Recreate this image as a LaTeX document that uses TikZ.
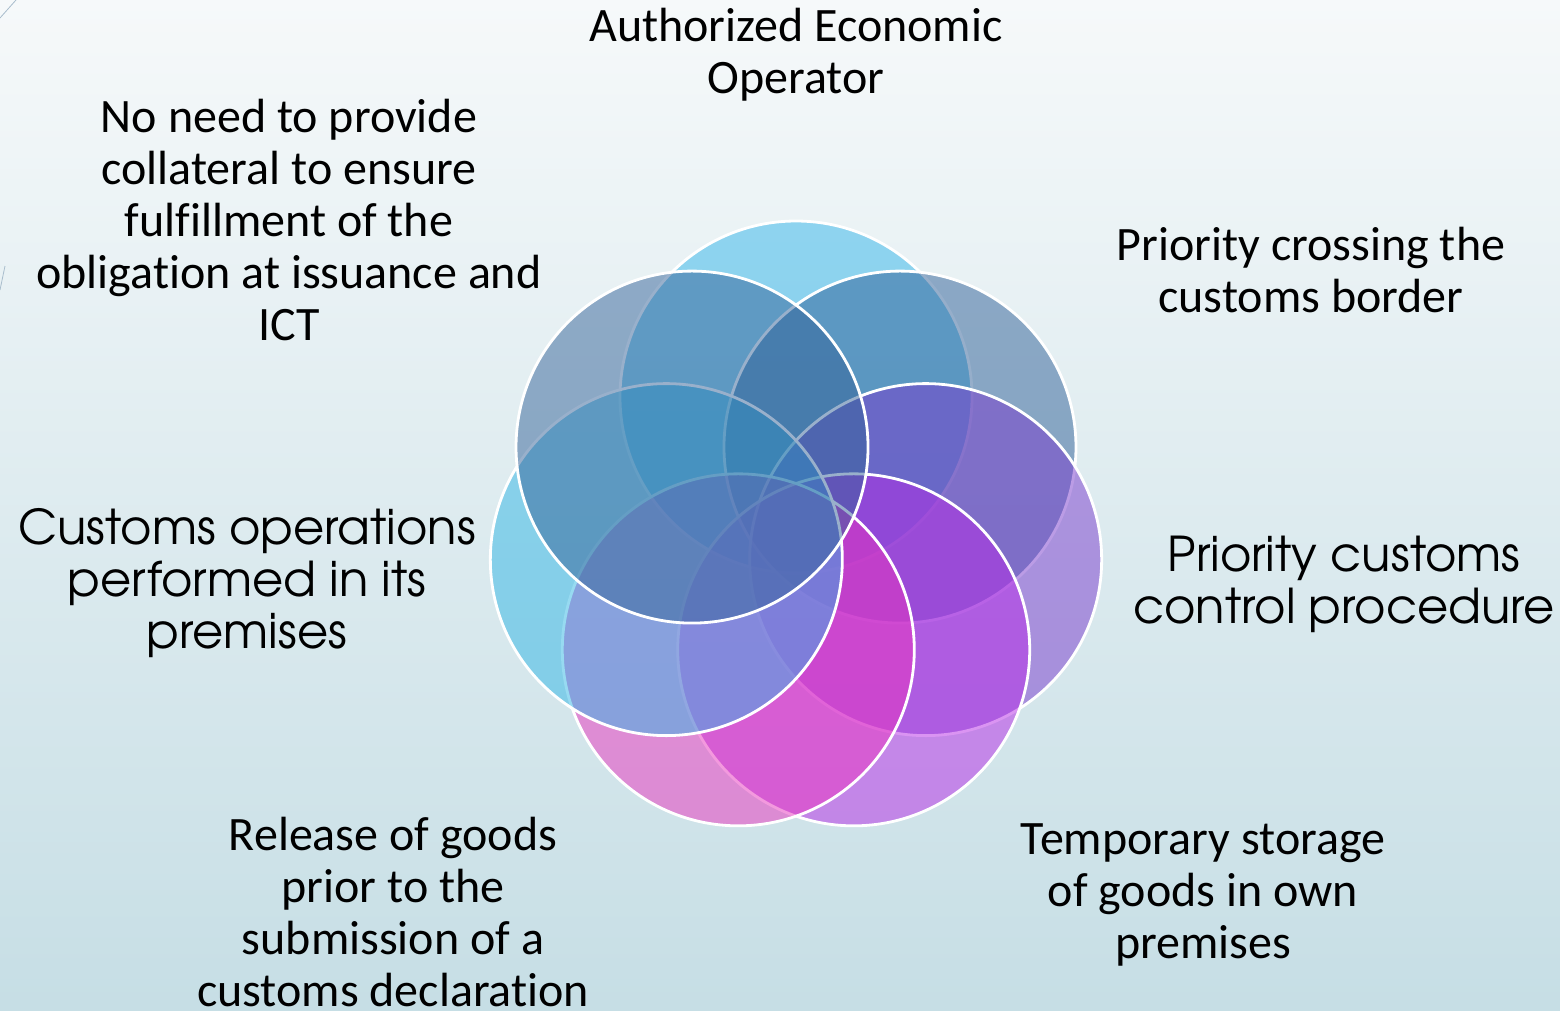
\documentclass[tikz,border=0pt]{standalone}
\usepackage{fontspec}
\setmainfont{Carlito}[Ligatures=NoCommon]
\newfontfamily\gothic{texgyreadventor-regular.otf}
\begin{document}
\begin{tikzpicture}[x=1pt,y=-1pt]
\definecolor{bgtop}{RGB}{246,249,250}
\definecolor{bgbot}{RGB}{198,222,229}
\definecolor{cA}{RGB}{50,181,234}
\definecolor{cB}{RGB}{46,95,151}
\definecolor{cC}{RGB}{121,58,205}
\definecolor{cD}{RGB}{183,42,231}
\definecolor{cE}{RGB}{233,52,191}
\definecolor{cF}{RGB}{49,182,229}
\definecolor{cG}{RGB}{52,99,153}
\definecolor{deco}{RGB}{170,190,205}
\tikzset{
  venn/.style={circle, minimum size=352pt, inner sep=0pt, draw=white, line width=2.8pt, fill opacity=0.5, draw opacity=1},
  lbl/.style={align=center, text=black, font=\fontsize{48}{52}\selectfont},
  glbl/.style={align=center, text=black, font=\gothic\fontsize{48}{52}\selectfont},
}
\useasboundingbox (0,0) rectangle (1560,1010);
\clip (0,0) rectangle (1560,1010);
\shade[top color=bgtop, bottom color=bgbot] (0,0) rectangle (1560,1010);
\draw[deco, line width=0.8pt] (16,0) -- (0,18);
\draw[deco, line width=0.8pt] (5,266) -- (0,290);
% circles
\node[venn, fill=cA] (c1) at (796,397) {};
\node[venn, fill=cB] (c2) at (899.98,447.08) {};
\node[venn, fill=cC] (c3) at (925.67,559.60) {};
\node[venn, fill=cD] (c4) at (853.71,649.83) {};
\node[venn, fill=cE] (c5) at (738.29,649.83) {};
\node[venn, fill=cF] (c6) at (666.33,559.60) {};
\node[venn, fill=cG] (c7) at (692.02,447.08) {};
% labels
\node[lbl] (t1) at (796,55) {Authorized Economic\\Operator};
\node[lbl] (t2) at (1311,270) {Priority crossing the\\customs border};
\node[glbl] (t3) at (1344,584) {Priority customs\\control procedure};
\node[lbl] (t4) at (1203,895) {Temporary storage\\of goods in own\\premises};
\node[lbl] (t5) at (393,912) {Release of goods\\prior to the\\submission of a\\customs declaration};
\node[glbl] (t6) at (247,583) {Customs operations\\performed in its\\premises};
\node[lbl] (t7) at (289,220) {No need to provide\\collateral to ensure\\fulfillment of the\\obligation at issuance and\\ICT};
\end{tikzpicture}
\end{document}
